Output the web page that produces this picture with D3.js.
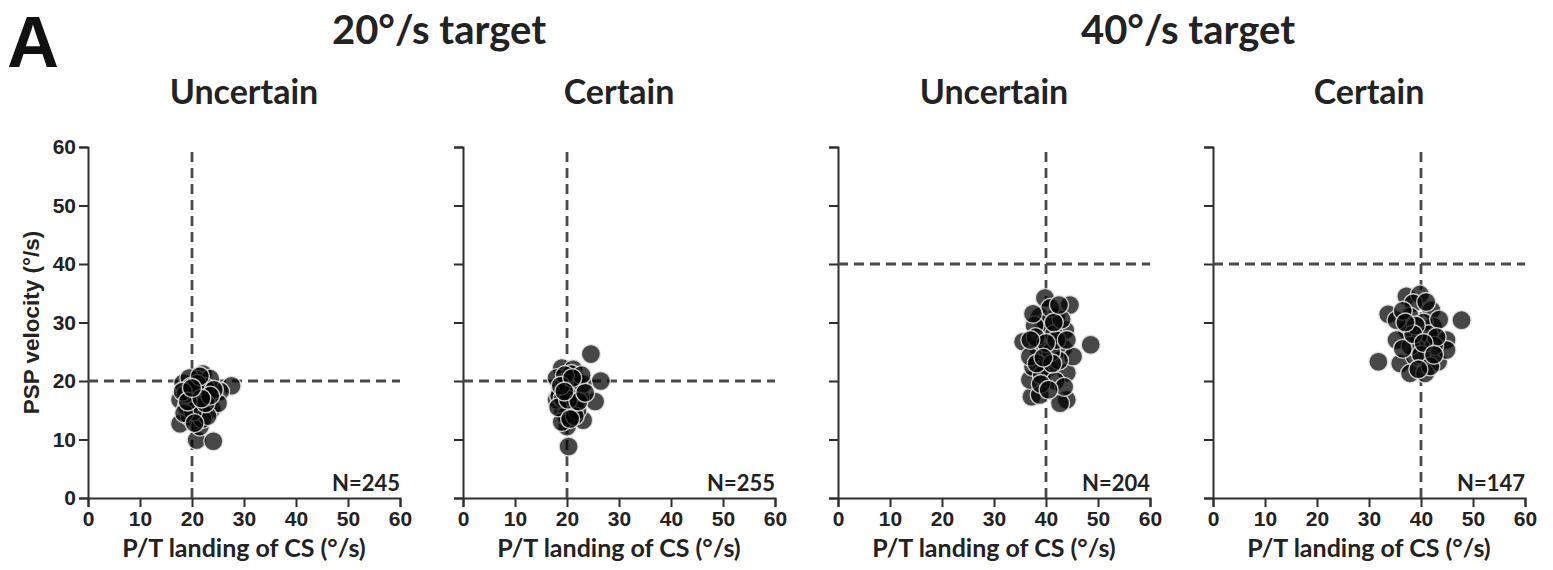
<!DOCTYPE html>
<html><head><meta charset="utf-8">
<script src="https://cdn.jsdelivr.net/npm/d3@7"></script>
<style>
html,body{margin:0;padding:0;background:#fff;}
svg{display:block;}
</style>
</head><body>
<svg id="chart" width="1553" height="570"></svg>
<script>
// ---- data ----
const groupTitles = ["20°/s target", "40°/s target"];
const panelTitles = ["Uncertain", "Certain", "Uncertain", "Certain"];
const targets = [20, 20, 40, 40];
const counts = ["N=245", "N=255", "N=204", "N=147"];
const tickValues = [0, 10, 20, 30, 40, 50, 60];
const xLabel = "P/T landing of CS (°/s)";
const yLabel = "PSP velocity (°/s)";

const uncertain20X = [27.6,17.7,20.9,24.1,25.4,23.8,22.1,19.3,17.7,19.6,21.5,19.0,20.9,23.5,25.0,22.8,18.3,20.0,21.2,22.5,20.5,21.8,19.5,18.8,22.0,23.0,20.2,21.0,24.2,19.8,18.5,22.6,21.5,20.5,23.5,18.2,19.2,21.8,20.0];
const uncertain20Y = [19.2,12.7,9.9,9.7,18.2,15.2,21.2,18.8,16.8,13.9,12.2,15.6,20.2,20.4,16.2,17.3,19.6,17.5,18.5,19.0,16.0,15.5,20.5,17.8,13.5,14.0,14.8,19.5,18.5,19.0,14.5,16.2,20.8,12.8,17.5,18.2,16.5,17.0,18.8];

const certain20X = [24.6,19.0,26.5,25.4,20.3,20.0,23.1,18.7,19.2,18.0,21.9,22.5,21.2,18.0,19.5,20.5,21.0,19.8,22.0,20.8,18.5,19.2,20.0,21.5,23.0,22.8,19.0,21.5,18.3,20.2,22.2,19.6,23.5,20.6,18.8,21.0,19.5];
const certain20Y = [24.6,22.2,20.0,16.5,8.8,12.2,13.3,18.5,15.0,16.8,20.2,17.3,22.0,20.5,19.8,18.0,16.0,14.0,15.0,21.2,17.5,17.0,19.5,18.8,19.5,21.0,13.0,14.0,15.5,16.8,16.5,21.0,18.0,13.5,19.2,20.5,18.2];

const uncertain40X = [39.8,44.6,48.6,35.6,37.2,38.8,44.0,42.7,40.4,38.5,43.3,38.8,42.0,39.5,43.7,36.9,37.5,44.0,45.2,36.9,40.0,41.5,37.8,42.5,39.2,41.0,38.0,43.0,40.8,37.5,41.8,39.0,42.0,40.0,44.0,38.2,41.2,43.5,40.5,37.0,39.5,41.5,42.5];
const uncertain40Y = [34.2,33.0,26.2,26.7,17.3,17.6,16.8,16.2,22.2,25.6,25.6,31.0,31.0,28.7,28.7,20.2,22.4,21.4,24.2,24.2,30.0,28.0,29.5,23.5,21.0,25.0,27.5,30.5,32.5,31.5,20.0,19.5,27.0,26.5,27.0,23.0,23.0,19.0,18.5,27.0,24.0,30.0,33.0];

const certain40X = [47.8,31.8,33.7,37.2,39.8,38.5,42.0,37.9,42.3,37.2,39.8,44.9,36.0,38.8,43.3,37.9,40.8,44.9,35.3,35.3,40.5,41.5,38.0,42.5,36.5,40.0,41.0,43.5,39.0,36.5,41.8,39.5,43.0,38.5,40.5,37.0,42.5];
const certain40Y = [30.4,23.3,31.4,34.5,34.8,33.3,32.1,31.0,29.3,28.7,27.0,27.0,23.0,24.2,23.3,21.3,21.3,25.3,27.0,30.4,30.0,28.0,26.0,26.0,25.5,24.5,33.5,30.5,29.5,32.0,22.5,22.0,27.5,28.0,26.5,30.0,24.5];

const seriesX = [uncertain20X, certain20X, uncertain40X, certain40X];
const seriesY = [uncertain20Y, certain20Y, uncertain40Y, certain40Y];

// ---- layout ----
const svg = d3.select("#chart");
const W = 312, H = 351, plotTop = 147;
const panelLeft = i => 88 + i * 375;
const x = d3.scaleLinear().domain([0, 60]).range([0, W]);
const y = d3.scaleLinear().domain([0, 60]).range([H, 0]);

const titleFont = "Lato, 'Open Sans', sans-serif";
const tickFont = "'Liberation Sans', Arial, sans-serif";
const axisColor = "#2e2e2e";

// Panel letter
svg.append("text").attr("x", 7).attr("y", 67)
  .attr("font-family", tickFont).attr("font-weight", "bold")
  .attr("font-size", 72).attr("fill", "#111").text("A");

// group titles
const groupCenters = [439, 1188];
groupTitles.forEach((t, i) => {
  svg.append("text").attr("x", groupCenters[i]).attr("y", 44)
    .attr("text-anchor", "middle").attr("font-family", titleFont)
    .attr("font-weight", "bold").attr("font-size", 40).attr("fill", "#222").text(t);
});

targets.forEach((tgt, i) => {
  const g = svg.append("g").attr("transform", `translate(${panelLeft(i)},${plotTop})`);

  // panel title
  g.append("text").attr("x", W / 2).attr("y", 104 - plotTop)
    .attr("text-anchor", "middle").attr("font-family", titleFont)
    .attr("font-weight", "bold").attr("font-size", 34).attr("fill", "#222").text(panelTitles[i]);

  // axes
  const xa = g.append("g").attr("transform", `translate(0,${H})`)
    .call(d3.axisBottom(x).tickValues(tickValues).tickSize(9).tickPadding(4).tickFormat(d3.format("d")));
  const ya = g.append("g")
    .call(d3.axisLeft(y).tickValues(tickValues).tickSize(9).tickPadding(3)
      .tickFormat(i === 0 ? d3.format("d") : () => ""));
  [xa, ya].forEach(a => {
    a.select(".domain").attr("stroke", axisColor).attr("stroke-width", 2);
    a.selectAll(".tick line").attr("stroke", axisColor).attr("stroke-width", 2);
    a.selectAll(".tick text").attr("fill", "#222").attr("font-family", tickFont)
      .attr("font-weight", "bold").attr("font-size", 21);
  });

  // x label
  g.append("text").attr("x", W / 2).attr("y", 557 - plotTop)
    .attr("text-anchor", "middle").attr("font-family", titleFont)
    .attr("font-weight", "bold").attr("font-size", 25).attr("fill", "#222").text(xLabel);

  if (i === 0) {
    g.append("text").attr("transform", `translate(${39 - panelLeft(0)},${H / 2}) rotate(-90)`)
      .attr("text-anchor", "middle").attr("font-family", tickFont)
      .attr("font-weight", "bold").attr("font-size", 22.5).attr("fill", "#222").text(yLabel);
  }

  // dashed target lines
  g.append("line").attr("x1", x(tgt)).attr("x2", x(tgt)).attr("y1", y(0)).attr("y2", y(60))
    .attr("stroke", "#4a4a4a").attr("stroke-width", 2.8).attr("stroke-dasharray", "10,6");
  g.append("line").attr("x1", x(0)).attr("x2", x(60)).attr("y1", y(tgt)).attr("y2", y(tgt))
    .attr("stroke", "#4a4a4a").attr("stroke-width", 2.8).attr("stroke-dasharray", "10,6");

  // points
  const pts = seriesX[i].map((v, k) => ({ x: v, y: seriesY[i][k] }));
  g.append("g").selectAll("circle").data(pts).join("circle")
    .attr("cx", d => x(d.x)).attr("cy", d => y(d.y)).attr("r", 9.5)
    .attr("fill", "#000").attr("fill-opacity", 0.72)
    .attr("stroke", "#e6e6e6").attr("stroke-width", 1.4).attr("stroke-opacity", 0.85);

  // N label
  g.append("text").attr("x", W).attr("y", H - 7)
    .attr("text-anchor", "end").attr("font-family", titleFont)
    .attr("font-weight", "bold").attr("font-size", 22).attr("fill", "#222").text(counts[i]);
});
</script>
</body></html>
